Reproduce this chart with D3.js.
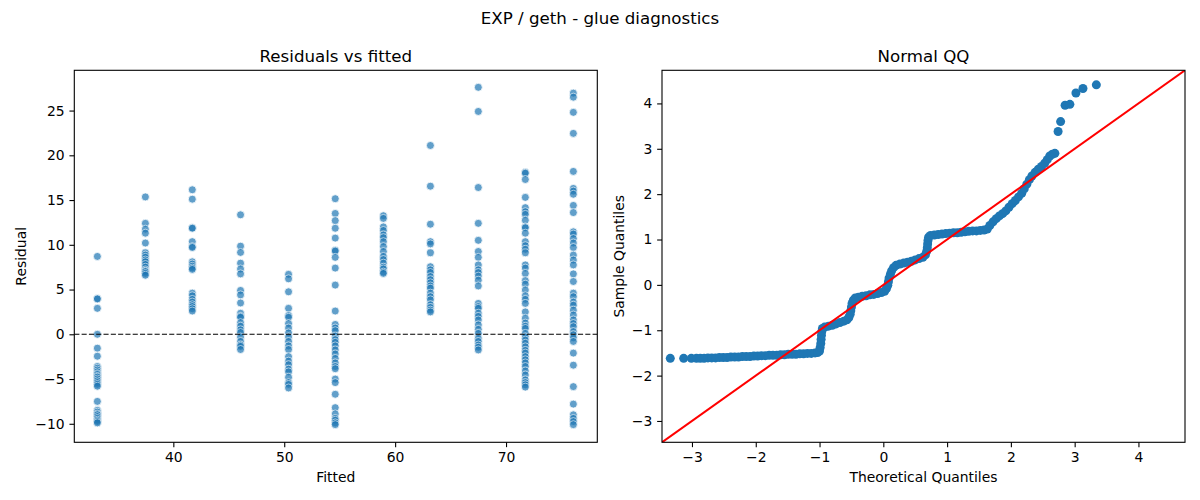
<!DOCTYPE html>
<html>
<head>
<meta charset="utf-8">
<script src="https://cdn.jsdelivr.net/npm/d3@7"></script>
<style>
  body { margin: 0; background: #fff; }
  svg { display: block; font-family: "DejaVu Sans", sans-serif; }
</style>
</head>
<body>
<script>
const fittedLevels = [33.15, 37.48, 41.71, 46.06, 50.39, 54.6, 58.94, 63.18, 67.5, 71.74, 76.07];

const residualGroups = [
  [8.7, 4.0, 3.95, 2.9, 0.0, -1.55, -2.45, -3.6, -3.8, -4.0, -4.2, -4.4, -4.5, -4.7, -4.8, -5.0, -5.2, -5.4, -5.6, -5.8, -7.5, -8.5, -8.7, -8.9, -9.0, -9.2, -9.4, -9.6, -9.75, -9.9],
  [15.35, 12.4, 11.75, 11.3, 10.2, 9.1, 8.85, 8.6, 8.3, 8.1, 7.8, 7.5, 7.2, 7.05, 7.0, 6.8, 6.6],
  [16.15, 15.1, 11.9, 11.85, 10.35, 9.8, 9.7, 8.1, 7.85, 7.6, 7.4, 7.25, 4.6, 4.3, 3.9, 3.6, 3.3, 3.1, 2.85, 2.6],
  [13.35, 9.85, 9.15, 7.95, 7.3, 6.75, 4.9, 4.4, 3.5, 2.35, 2.0, 1.9, 1.3, 0.9, 0.5, 0.2, -0.3, -0.8, -1.2, -1.35, -1.7],
  [6.7, 6.2, 4.75, 2.9, 2.1, 1.9, 1.2, 0.7, 0.15, -0.3, -0.8, -1.3, -1.7, -2.5, -3.0, -3.4, -3.9, -4.2, -4.8, -5.4, -5.6, -6.0],
  [15.15, 13.5, 12.7, 11.85, 10.75, 9.4, 9.3, 8.6, 7.4, 5.5, 2.6, 1.1, 0.7, 0.4, -0.2, -0.6, -0.9, -1.3, -1.75, -2.2, -2.7, -3.2, -3.6, -3.85, -5.0, -5.4, -6.7, -8.2, -8.9, -9.4, -9.6, -9.9, -10.1],
  [13.25, 12.95, 12.0, 11.6, 11.1, 10.8, 10.35, 9.8, 9.25, 8.7, 8.35, 7.95, 7.5, 7.3, 6.95, 6.8],
  [21.1, 16.55, 12.3, 10.35, 10.1, 9.1, 7.55, 7.2, 6.9, 6.45, 6.1, 5.75, 5.4, 5.15, 4.6, 4.2, 3.85, 3.3, 3.0, 2.7, 2.5],
  [27.6, 24.9, 16.4, 12.4, 10.5, 9.25, 8.6, 7.75, 7.2, 6.9, 6.5, 6.05, 5.4, 3.45, 3.1, 2.9, 2.35, 2.0, 1.6, 1.05, 0.55, 0.1, -0.45, -0.8, -1.2, -1.45, -1.75],
  [18.1, 18.0, 17.3, 15.3, 14.15, 13.7, 13.4, 12.75, 12.0, 11.9, 11.3, 10.35, 9.9, 9.5, 9.1, 7.75, 7.4, 6.8, 6.0, 5.6, 4.95, 4.3, 3.9, 3.45, 2.5, 1.8, 1.25, 0.9, 0.65, 0.1, -0.3, -0.65, -1.0, -1.4, -1.8, -2.1, -2.5, -2.85, -3.2, -3.6, -4.1, -4.55, -5.1, -5.4, -5.65, -5.9],
  [26.95, 26.5, 24.8, 22.45, 18.2, 16.3, 16.0, 15.65, 14.4, 13.6, 11.45, 11.2, 10.7, 10.2, 9.7, 8.85, 8.3, 7.75, 6.75, 5.9, 4.6, 4.2, 3.6, 3.25, 2.7, 2.15, 1.6, 1.2, 0.85, 0.3, -0.05, -0.4, -0.8, -2.1, -3.45, -5.85, -7.8, -9.0, -9.4, -9.75, -10.1]
];

const qqTheoretical = [
  -3.34, -3.13, -3.01, -2.93,
  -2.87, -2.81, -2.75, -2.69, -2.63, -2.57, -2.51, -2.45, -2.39, -2.33, -2.27, -2.21, -2.15, -2.09, -2.03, -1.97,
  -1.91, -1.85, -1.79, -1.73, -1.67, -1.61, -1.55, -1.49, -1.43, -1.37, -1.31, -1.25, -1.19, -1.13, -1.07, -1.03,
  -1.00, -0.99, -0.98, -0.975, -0.97, -0.965, -0.955,
  -0.92, -0.86, -0.80, -0.74, -0.68, -0.62, -0.57, -0.54, -0.52, -0.51, -0.50, -0.49, -0.47, -0.44,
  -0.39, -0.33, -0.27, -0.21, -0.15, -0.09, -0.03, 0.02, 0.05, 0.07, 0.08, 0.09, 0.11, 0.13, 0.16, 0.20,
  0.26, 0.32, 0.38, 0.44, 0.50, 0.56, 0.62, 0.66, 0.68, 0.69, 0.695, 0.70, 0.71, 0.74,
  0.80, 0.86, 0.92, 0.98, 1.04, 1.10, 1.16, 1.22, 1.28, 1.34, 1.40, 1.46, 1.52, 1.58, 1.63,
  1.67, 1.72, 1.77, 1.82, 1.87, 1.92, 1.97, 2.02, 2.07, 2.12, 2.17, 2.21, 2.25, 2.29, 2.33, 2.38, 2.43, 2.48,
  2.53, 2.57, 2.61, 2.65, 2.69,
  2.74, 2.78, 2.85, 2.925, 3.02, 3.13, 3.34
];

const qqSample = [
  -1.62, -1.62, -1.62, -1.62,
  -1.62, -1.62, -1.61, -1.61, -1.61, -1.60, -1.60, -1.60, -1.59, -1.59, -1.59, -1.58, -1.58, -1.58, -1.57, -1.57,
  -1.56, -1.56, -1.55, -1.55, -1.55, -1.54, -1.54, -1.53, -1.53, -1.53, -1.52, -1.52, -1.51, -1.51, -1.50, -1.49,
  -1.46, -1.38, -1.29, -1.20, -1.11, -1.03, -0.96,
  -0.93, -0.91, -0.89, -0.86, -0.83, -0.80, -0.77, -0.72, -0.65, -0.57, -0.49, -0.41, -0.34, -0.29,
  -0.27, -0.25, -0.24, -0.22, -0.21, -0.19, -0.17, -0.14, -0.08, -0.01, 0.07, 0.15, 0.23, 0.31, 0.38, 0.43,
  0.46, 0.48, 0.50, 0.52, 0.55, 0.58, 0.61, 0.66, 0.74, 0.82, 0.90, 0.98, 1.05, 1.09,
  1.10, 1.11, 1.12, 1.13, 1.14, 1.15, 1.15, 1.16, 1.17, 1.18, 1.19, 1.19, 1.20, 1.21, 1.23,
  1.31, 1.39, 1.46, 1.52, 1.57, 1.63, 1.71, 1.79, 1.86, 1.94, 2.02, 2.12, 2.22, 2.32, 2.40, 2.48, 2.55, 2.61,
  2.68, 2.76, 2.84, 2.88, 2.90,
  3.38, 3.60, 3.96, 3.98, 4.23, 4.33, 4.41
];

const fittedTicks = [40, 50, 60, 70];
const residualTicks = [-10, -5, 0, 5, 10, 15, 20, 25];
const qqTicks = [-3, -2, -1, 0, 1, 2, 3, 4];

const W = 1200, H = 500;
const blue = "#1f77b4";
const tickLen = 4.86, tickPad = 4.86;

const svg = d3.select("body").append("svg")
    .attr("width", W)
    .attr("height", H);

svg.append("text")
    .attr("x", 600).attr("y", 24)
    .attr("text-anchor", "middle")
    .attr("font-size", 16.67)
    .text("EXP / geth - glue diagnostics");

function frame(box, title, xLabel, yLabel, yLabelX) {
  const g = svg.append("g");
  g.append("text")
      .attr("x", (box.x0 + box.x1) / 2).attr("y", box.y0 - 8.5)
      .attr("text-anchor", "middle")
      .attr("font-size", 16.67)
      .text(title);
  g.append("text")
      .attr("x", (box.x0 + box.x1) / 2).attr("y", box.y1 + 40)
      .attr("text-anchor", "middle")
      .attr("font-size", 13.9)
      .text(xLabel);
  g.append("text")
      .attr("transform", `translate(${yLabelX},${(box.y0 + box.y1) / 2}) rotate(-90)`)
      .attr("text-anchor", "middle")
      .attr("dy", "0.35em")
      .attr("font-size", 13.9)
      .text(yLabel);
  return g;
}

function axes(box, x, y, xTicks, yTicks) {
  const ax = svg.append("g")
      .attr("transform", `translate(0,${box.y1})`)
      .call(d3.axisBottom(x).tickValues(xTicks).tickSize(tickLen).tickPadding(tickPad));
  const ay = svg.append("g")
      .attr("transform", `translate(${box.x0},0)`)
      .call(d3.axisLeft(y).tickValues(yTicks).tickSize(tickLen).tickPadding(tickPad));
  for (const a of [ax, ay]) {
    a.select(".domain").remove();
    a.attr("font-family", null).attr("font-size", 13.9);
    a.selectAll("line").attr("stroke", "#000").attr("stroke-width", 1.1);
    a.selectAll("text").attr("fill", "#000");
  }
  svg.append("rect")
      .attr("x", box.x0).attr("y", box.y0)
      .attr("width", box.x1 - box.x0).attr("height", box.y1 - box.y0)
      .attr("fill", "none").attr("stroke", "#000").attr("stroke-width", 1.1);
}

function clip(id, box) {
  svg.append("clipPath").attr("id", id)
    .append("rect")
      .attr("x", box.x0).attr("y", box.y0)
      .attr("width", box.x1 - box.x0).attr("height", box.y1 - box.y0);
  return `url(#${id})`;
}

// residuals vs fitted
const left = {x0: 74.3, x1: 597.3, y0: 70.3, y1: 442.3};
const xFit = d3.scaleLinear().domain([31.07, 78.23]).range([left.x0, left.x1]);
const yRes = d3.scaleLinear().domain([-12.07, 29.5]).range([left.y1, left.y0]);

frame(left, "Residuals vs fitted", "Fitted", "Residual", 21.5);

const points = residualGroups.flatMap((vals, i) => vals.map(v => ({f: fittedLevels[i], r: v})));

const pl = svg.append("g").attr("clip-path", clip("clipL", left));
pl.selectAll("circle")
  .data(points)
  .join("circle")
    .attr("cx", d => xFit(d.f))
    .attr("cy", d => yRes(d.r))
    .attr("r", 4.0)
    .attr("fill", blue)
    .attr("stroke", "#fff")
    .attr("stroke-width", 0.8)
    .attr("opacity", 0.7);

pl.append("line")
    .attr("x1", left.x0).attr("x2", left.x1)
    .attr("y1", yRes(0)).attr("y2", yRes(0))
    .attr("stroke", "#000")
    .attr("stroke-width", 1.1)
    .attr("stroke-dasharray", "5.1,2.2");

axes(left, xFit, yRes, fittedTicks, residualTicks);

// normal qq
const right = {x0: 662, x1: 1185, y0: 70.3, y1: 442.3};
const qqLim = [-3.47, 4.73];
const xQ = d3.scaleLinear().domain(qqLim).range([right.x0, right.x1]);
const yQ = d3.scaleLinear().domain(qqLim).range([right.y1, right.y0]);

frame(right, "Normal QQ", "Theoretical Quantiles", "Sample Quantiles", 619);

const pr = svg.append("g").attr("clip-path", clip("clipR", right));
pr.selectAll("circle")
  .data(d3.zip(qqTheoretical, qqSample))
  .join("circle")
    .attr("cx", d => xQ(d[0]))
    .attr("cy", d => yQ(d[1]))
    .attr("r", 4.5)
    .attr("fill", blue);

pr.append("line")
    .attr("x1", xQ(qqLim[0])).attr("y1", yQ(qqLim[0]))
    .attr("x2", xQ(qqLim[1])).attr("y2", yQ(qqLim[1]))
    .attr("stroke", "red")
    .attr("stroke-width", 2);

axes(right, xQ, yQ, qqTicks, qqTicks);
</script>
</body>
</html>
